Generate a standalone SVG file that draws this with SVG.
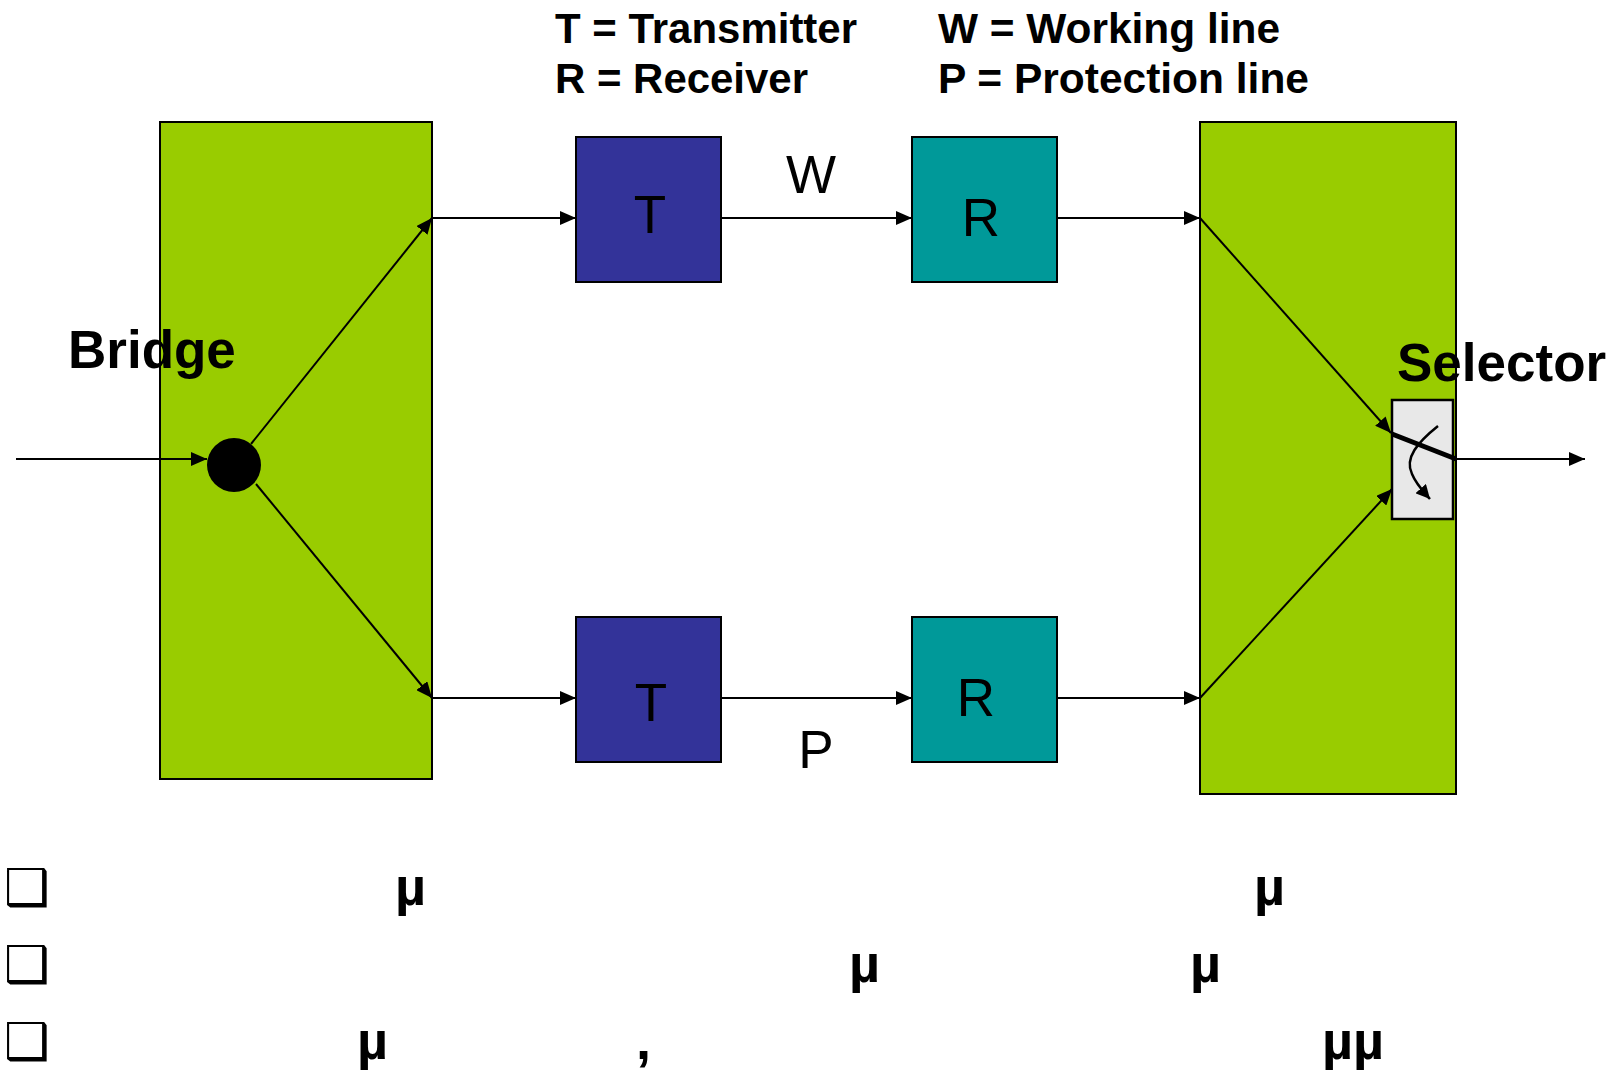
<svg xmlns="http://www.w3.org/2000/svg" width="1614" height="1070" viewBox="0 0 1614 1070">
  <style>
    .box { stroke: #000; stroke-width: 2; }
    .green { fill: #99CC00; }
    .tx { fill: #333399; }
    .rx { fill: #009999; }
    .lbl { font-family: "Liberation Sans", Arial, sans-serif; font-size: 53px; fill: #000; text-anchor: middle; }
    .bold { font-family: "Liberation Sans", Arial, sans-serif; font-weight: bold; fill: #000; }
    .conn { stroke: #000; stroke-width: 2; fill: none; }
    .bullet { font-family: "DejaVu Sans", sans-serif; font-size: 51px; fill: #000; }
  </style>
  <defs>
    <marker id="arr" markerUnits="userSpaceOnUse" markerWidth="16" markerHeight="14" refX="16" refY="7" orient="auto">
      <path d="M0,0 L16,7 L0,14 Z" fill="#000"/>
    </marker>
    <marker id="arrs" markerUnits="userSpaceOnUse" markerWidth="14" markerHeight="14" refX="14" refY="7" orient="auto">
      <path d="M0,0 L14,7 L0,14 Z" fill="#000"/>
    </marker>
  </defs>
  <rect width="1614" height="1070" fill="#fff"/>

  <g id="legend">
    <text class="bold" x="555" y="43" font-size="42" textLength="302" lengthAdjust="spacingAndGlyphs">T = Transmitter</text>
    <text class="bold" x="555" y="93" font-size="42" textLength="253" lengthAdjust="spacingAndGlyphs">R = Receiver</text>
    <text class="bold" x="938" y="43" font-size="42" textLength="342" lengthAdjust="spacingAndGlyphs">W = Working line</text>
    <text class="bold" x="938" y="93" font-size="42" textLength="371" lengthAdjust="spacingAndGlyphs">P = Protection line</text>
  </g>

  <g id="bridge">
    <rect class="box green" x="160" y="122" width="272" height="657"/>
    <circle cx="234" cy="465" r="27" fill="#000"/>
  </g>

  <g id="selector-block">
    <rect class="box green" x="1200" y="122" width="256" height="672"/>
  </g>

  <g id="t-working">
    <rect class="box tx" x="576" y="137" width="145" height="145"/>
    <text class="lbl" x="650" y="233">T</text>
  </g>
  <g id="r-working">
    <rect class="box rx" x="912" y="137" width="145" height="145"/>
    <text class="lbl" x="981" y="236">R</text>
  </g>
  <g id="t-protection">
    <rect class="box tx" x="576" y="617" width="145" height="145"/>
    <text class="lbl" x="651" y="721">T</text>
  </g>
  <g id="r-protection">
    <rect class="box rx" x="912" y="617" width="145" height="145"/>
    <text class="lbl" x="976" y="716">R</text>
  </g>

  <g id="connectors">
    <line class="conn" x1="16" y1="459" x2="207" y2="459" marker-end="url(#arr)"/>
    <line class="conn" x1="251" y1="444" x2="432" y2="218" marker-end="url(#arr)"/>
    <line class="conn" x1="256" y1="484" x2="432" y2="698" marker-end="url(#arr)"/>
    <line class="conn" x1="432" y1="218" x2="576" y2="218" marker-end="url(#arr)"/>
    <line class="conn" x1="721" y1="218" x2="912" y2="218" marker-end="url(#arr)"/>
    <line class="conn" x1="1057" y1="218" x2="1200" y2="218" marker-end="url(#arr)"/>
    <line class="conn" x1="432" y1="698" x2="576" y2="698" marker-end="url(#arr)"/>
    <line class="conn" x1="721" y1="698" x2="912" y2="698" marker-end="url(#arr)"/>
    <line class="conn" x1="1057" y1="698" x2="1200" y2="698" marker-end="url(#arr)"/>
    <line class="conn" x1="1200" y1="218" x2="1391" y2="433" marker-end="url(#arr)"/>
    <line class="conn" x1="1200" y1="698" x2="1392" y2="489" marker-end="url(#arr)"/>
    <line class="conn" x1="1455" y1="459" x2="1585" y2="459" marker-end="url(#arr)"/>
    <text class="lbl" x="811" y="193" font-size="55">W</text>
    <text class="lbl" x="816" y="768">P</text>
  </g>

  <g id="selector">
    <rect x="1392" y="400" width="61" height="119" fill="#E8E8E8" stroke="#000" stroke-width="2.5"/>
    <line x1="1392" y1="434" x2="1456" y2="459" stroke="#000" stroke-width="5"/>
    <path d="M1438,426 C1418,442 1404,458 1412,474 C1416,484 1422,490 1430,499" stroke="#000" stroke-width="2.5" fill="none" marker-end="url(#arrs)"/>
  </g>

  <text class="bold" x="68" y="368" font-size="53">Bridge</text>
  <text class="bold" x="1397" y="381" font-size="53">Selector</text>

  <g id="bullets">
    <text class="bullet" x="4" y="905">❑</text>
    <text class="bullet" x="4" y="982">❑</text>
    <text class="bullet" x="4" y="1059">❑</text>
    <text class="bold" font-size="54" x="395" y="905">µ</text>
    <text class="bold" font-size="54" x="1254" y="905">µ</text>
    <text class="bold" font-size="54" x="849" y="982">µ</text>
    <text class="bold" font-size="54" x="1190" y="982">µ</text>
    <text class="bold" font-size="54" x="357" y="1059">µ</text>
    <text class="bold" font-size="54" x="636" y="1059">,</text>
    <text class="bold" font-size="54" x="1322" y="1059">µµ</text>
  </g>
</svg>
